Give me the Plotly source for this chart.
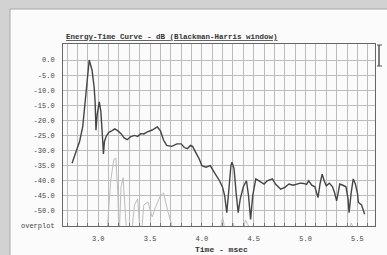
import plotly.graph_objects as go

# Main ETC trace (time in msec, level in dB)
etc_time = [2.747, 2.78, 2.82, 2.85, 2.88, 2.90, 2.913, 2.925, 2.94, 2.96, 2.97, 2.978, 2.99, 3.01, 3.025,
            3.04, 3.05, 3.06, 3.074, 3.09, 3.106, 3.13, 3.16, 3.19, 3.22, 3.25, 3.28, 3.31, 3.35, 3.38,
            3.41, 3.44, 3.47, 3.52, 3.57, 3.60, 3.63, 3.66, 3.71, 3.76, 3.80, 3.83, 3.86, 3.89, 3.91,
            3.94, 3.97, 4.00, 4.04, 4.08, 4.11, 4.13, 4.17, 4.20, 4.22, 4.24, 4.26, 4.28, 4.29, 4.31,
            4.33, 4.35, 4.37, 4.40, 4.43, 4.45, 4.47, 4.49, 4.52, 4.55, 4.60, 4.63, 4.68, 4.71, 4.76,
            4.80, 4.84, 4.88, 4.92, 4.95, 4.98, 5.01, 5.03, 5.06, 5.09, 5.12, 5.14, 5.16, 5.18, 5.20,
            5.23, 5.26, 5.28, 5.30, 5.32, 5.33, 5.36, 5.39, 5.41, 5.42, 5.44, 5.46, 5.48, 5.50, 5.51,
            5.54, 5.57]
etc_db = [-34.2, -31, -27, -22.2, -12, -4, 0, -1.5, -3.3, -8.9, -14, -23.3, -18, -13.9, -17,
          -25, -31.1, -27, -25.5, -24.6, -23.9, -23.5, -22.8, -23.5, -24.4, -25.8, -26.4, -25.5, -25, -25.3,
          -24.4, -24.5, -23.9, -23.2, -22.2, -23.5, -26.5, -28.3, -28.6, -27.8, -27.8, -29, -29.4, -28.3, -28.6,
          -30.6, -32.5, -35, -35.5, -35, -36.5, -37.8, -40, -42.2, -45, -50.6, -43, -35, -33.9, -36,
          -44, -50.6, -46, -42, -40, -45, -52.8, -45, -39.4, -40, -41.1, -40, -39.4, -41.1, -42.8,
          -42.2, -41.1, -41.5, -41.1, -40.8, -40.9, -41.2, -40, -41.5, -42, -45.6, -41, -37.8, -40, -41.7,
          -40.8, -42, -44, -46.7, -43, -41.1, -41.5, -42, -46, -50.6, -44, -39.4, -41, -44, -47.2,
          -48, -51.1]

# Overplot (lighter) trace
over_time = [3.08, 3.12, 3.15, 3.17, 3.19, 3.20, 3.22, 3.24, 3.26, 3.28, 3.32, 3.35, 3.38, 3.41, 3.44,
             3.48, 3.52, 3.55, 3.60, 3.63, 3.67, 3.72, 3.78, None,
             4.16, 4.20, 4.23, 4.26, 4.30, 4.33, 4.38, 4.42, 4.45, 4.48, None,
             5.40, 5.44, 5.48, 5.52, 5.56]
over_db = [-60, -40, -33, -32.5, -45, -60, -42, -39, -50, -60, -58, -48, -46, -60, -48,
           -47, -52, -49, -45, -44, -50, -56, -60, None,
           -60, -52, -58, -60, -54, -57, -60, -53, -55, -60, None,
           -60, -54, -57, -56, -60]

x_ticks = [3.0, 3.5, 4.0, 4.5, 5.0, 5.5]
x_labels = ["3.0", "3.5", "4.0", "4.5", "5.0", "5.5"]
x_grid = [round(2.7 + 0.1 * i, 1) for i in range(30)]
y_ticks = [0, -5, -10, -15, -20, -25, -30, -35, -40, -45, -50, -55]
y_labels = ["0.0", "-5.0", "-10.0", "-15.0", "-20.0", "-25.0", "-30.0", "-35.0", "-40.0", "-45.0", "-50.0", "overplot"]

# all 0.1 ms grid positions, labelled only at the half-msec ticks
label_map = {round(v, 1): t for v, t in zip(x_ticks, x_labels)}
x_text = [label_map.get(v, "") for v in x_grid]

FONT = "Liberation Mono"
W, H = 387, 255
L, R, T, B = 63, 12, 44, 29
pw, ph = W - L - R, H - T - B

def px(x):
    return (x - L) / pw

def py(y):
    return (H - B - y) / ph

fig = go.Figure()
fig.add_trace(go.Scatter(x=over_time, y=over_db, mode="lines",
                         line=dict(color="#bdbdbd", width=1), connectgaps=False,
                         hoverinfo="skip", showlegend=False))
fig.add_trace(go.Scatter(x=etc_time, y=etc_db, mode="lines",
                         line=dict(color="#454545", width=1.4),
                         showlegend=False))

shapes = [
    dict(type="rect", xref="paper", yref="paper", x0=px(10), x1=px(400), y0=py(270), y1=py(9),
         fillcolor="#fbfbfb", line=dict(color="#a8a8a8", width=1), layer="below"),
    dict(type="line", xref="paper", yref="paper", x0=px(379), x1=px(379), y0=py(45), y1=py(66),
         line=dict(color="#555", width=1.5)),
    dict(type="line", xref="paper", yref="paper", x0=px(377), x1=px(382), y0=py(45), y1=py(45),
         line=dict(color="#555", width=1)),
    dict(type="line", xref="paper", yref="paper", x0=px(377), x1=px(382), y0=py(66), y1=py(66),
         line=dict(color="#555", width=1)),
]

fig.update_layout(
    width=W, height=H,
    margin=dict(l=L, r=R, t=T, b=B, autoexpand=False),
    paper_bgcolor="#d2d2d2",
    plot_bgcolor="#ffffff",
    shapes=shapes,
    font=dict(family=FONT, size=7, color="#333"),
    annotations=[
        dict(text="<b><u>Energy-Time Curve - dB (Blackman-Harris window)</u></b>",
             xref="paper", yref="paper", x=px(64), y=py(37), xanchor="left", yanchor="middle",
             showarrow=False, font=dict(family=FONT, size=7.5, color="#333")),
        dict(text="<b>Time - msec</b>", xref="paper", yref="paper", x=px(221), y=py(249),
             xanchor="center", yanchor="middle", showarrow=False,
             font=dict(family=FONT, size=8, color="#333")),
    ],
    xaxis=dict(range=[2.66, 5.67], tickmode="array", tickvals=x_grid, ticktext=x_text,
               showgrid=True, gridcolor="#bcbcbc", gridwidth=1,
               ticks="inside", ticklen=3, tickcolor="#777", automargin=False, ticklabelstandoff=6,
               showline=True, linecolor="#666", linewidth=1, mirror=True, zeroline=False,
               tickfont=dict(family=FONT, size=7, color="#444")),
    yaxis=dict(range=[-55, 5.3], tickvals=y_ticks, ticktext=y_labels,
               showgrid=True, gridcolor="#bcbcbc", gridwidth=1, automargin=False,
               showline=True, linecolor="#666", linewidth=1, mirror=True, zeroline=False,
               ticks="", ticklabelstandoff=6,
               tickfont=dict(family=FONT, size=7, color="#444")),
)

fig.write_html("out.html", config={"displayModeBar": False},
               post_script="document.body.style.margin='0';document.body.style.overflow='hidden';")
